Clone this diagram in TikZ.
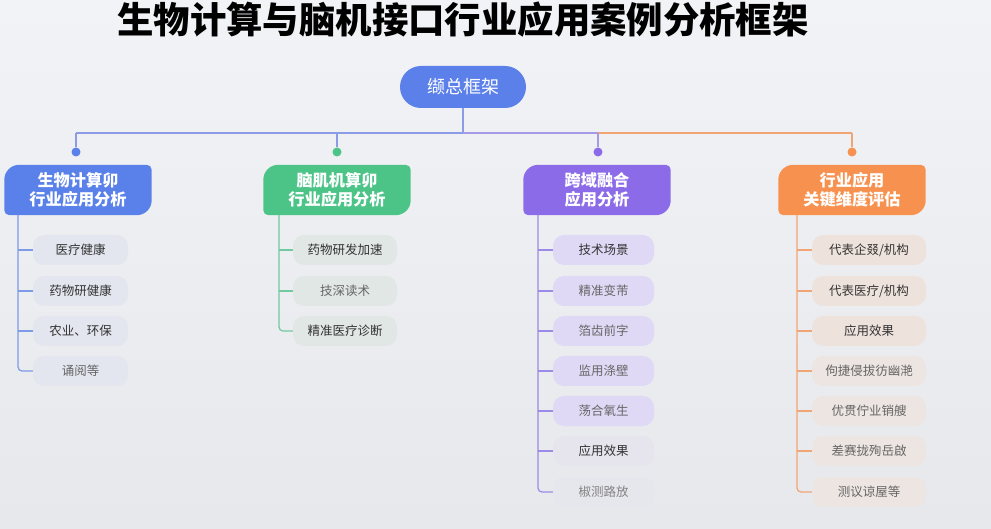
\documentclass[tikz,border=0pt]{standalone}
\usepackage{fontspec}
\setmainfont{Noto Sans CJK SC}
\usetikzlibrary{calc,backgrounds}
\definecolor{bgtop}{HTML}{F2F3F6}
\definecolor{bgbot}{HTML}{E6E8EC}
\definecolor{rootblue}{HTML}{5B80EA}
\definecolor{cA}{HTML}{5A80EA}
\definecolor{cB}{HTML}{4CC488}
\definecolor{cC}{HTML}{8C6BE8}
\definecolor{cD}{HTML}{F7914F}
\definecolor{fA}{HTML}{E3E6EE}
\definecolor{fB}{HTML}{E1E7E5}
\definecolor{fC}{HTML}{E0D9F5}
\definecolor{fCl}{HTML}{E6E5EE}
\definecolor{fD}{HTML}{EEE3DC}
\definecolor{fDl}{HTML}{ECE5E1}
\definecolor{lA}{HTML}{7E9BE8}
\definecolor{lB}{HTML}{72C9A0}
\definecolor{lC}{HTML}{9C8AE6}
\definecolor{lD}{HTML}{F2A574}
\definecolor{busA}{HTML}{8A9CE6}
\definecolor{busB}{HTML}{A69AE6}
\definecolor{txt}{HTML}{333333}
\definecolor{txtl}{HTML}{666666}
\newcommand\catfill[2]{%
  \fill[#2] ($(#1.north west)+(0,-15)$) arc[start angle=180,end angle=90,radius=15pt]
   -- ($(#1.north east)+(-5,0)$) arc[start angle=90,end angle=0,radius=5pt]
   -- ($(#1.south east)+(0,15)$) arc[start angle=0,end angle=-90,radius=15pt]
   -- ($(#1.south west)+(5,0)$) arc[start angle=270,end angle=180,radius=5pt] -- cycle;}
\begin{document}
\begin{tikzpicture}[x=1pt,y=1pt,
  catbox/.style={text=white,font=\bfseries\fontsize{16.2}{18.5}\selectfont,align=center,
    minimum width=147pt,minimum height=50pt,inner sep=0pt},
  leaf/.style={rounded corners=11pt,minimum height=30pt,inner sep=0pt,
    font=\fontsize{12.5}{14}\selectfont,text=txt},
  dotn/.style={circle,minimum size=9pt,inner sep=0pt},
  ln/.style={line width=1.2pt}]
\begin{scope}[on background layer]
\shade[top color=bgtop,bottom color=bgbot] (0,0) rectangle (991,528);
\end{scope}
\useasboundingbox (0,0) rectangle (991,528);
% title
\node[font=\bfseries\fontsize{36.4}{40}\selectfont,text=black] (title) at (463,508) {生物计算与脑机接口行业应用案例分析框架};
% root
\node[fill=rootblue,rounded corners=21pt,minimum width=126pt,minimum height=42pt,
  text=white,font=\fontsize{18}{20}\selectfont] (root) at (463,441) {缬总框架};
\coordinate (bus) at (463,395);
% dots
\node[dotn,fill=cA] (d1) at (76,376) {};
\node[dotn,fill=cB] (d2) at (337,376) {};
\node[dotn,fill=cC] (d3) at (598,376) {};
\node[dotn,fill=cD] (d4) at (852,376) {};
\draw[ln,busA] (root.south) -- (bus);
\draw[ln,busA] (d1.center |- bus) -- (bus);
\draw[ln,busB] (bus) -- (d3.center |- bus);
\draw[ln,lD] (d3.center |- bus) -- (d4.center |- bus);
\draw[ln,busA] (d1.center |- bus) -- (d1.north);
\draw[ln,busA] (d2.center |- bus) -- (d2.north);
\draw[ln,busB] (d3.center |- bus) -- (d3.north);
\draw[ln,lD] (d4.center |- bus) -- (d4.north);
% categories
\node[catbox] (c1) at (78,338) {生物计算卯\\行业应用分析};
\node[catbox] (c2) at (337,338) {脑肌机算卯\\行业应用分析};
\node[catbox] (c3) at (597,338) {跨域融合\\应用分析};
\node[catbox] (c4) at (852,338) {行业应用\\关键维度评估};
\begin{scope}[on background layer]
\catfill{c1}{cA}
\catfill{c2}{cB}
\catfill{c3}{cC}
\catfill{c4}{cD}
\end{scope}
\coordinate (v1) at (18,0 |- c1.south);
\coordinate (v2) at (279,0 |- c2.south);
\coordinate (v3) at (538,0 |- c3.south);
\coordinate (v4) at (797,0 |- c4.south);
% column 1
\node[leaf,fill=fA,minimum width=95pt] (a1) at (80.5,278) {医疗健康};
\node[leaf,fill=fA,minimum width=95pt] (a2) at (80.5,237) {药物研健康};
\node[leaf,fill=fA,minimum width=95pt] (a3) at (80.5,197) {农业、环保};
\node[leaf,fill=fA,minimum width=95pt,text=txtl] (a4) at (80.5,157) {诵阅等};
\draw[ln,lA,rounded corners=4pt] (v1) |- (a4.west);
\foreach \n in {a1,a2,a3} \draw[ln,lA] (v1 |- \n.west) -- (\n.west);
% column 2
\node[leaf,fill=fB,minimum width=104pt] (b1) at (345,278) {药物研发加速};
\node[leaf,fill=fB,minimum width=104pt,text=txtl] (b2) at (345,237) {技深读术};
\node[leaf,fill=fB,minimum width=104pt] (b3) at (345,197) {精准医疗诊断};
\draw[ln,lB,rounded corners=4pt] (v2) |- (b3.west);
\foreach \n in {b1,b2} \draw[ln,lB] (v2 |- \n.west) -- (\n.west);
% column 3
\node[leaf,fill=fC,minimum width=101pt] (e1) at (603.5,278) {技术场景};
\node[leaf,fill=fC,minimum width=101pt,text=txtl] (e2) at (603.5,237) {精准变芾};
\node[leaf,fill=fC,minimum width=101pt,text=txtl] (e3) at (603.5,197) {箔齿前字};
\node[leaf,fill=fC,minimum width=101pt,text=txtl] (e4) at (603.5,157) {监用涤壁};
\node[leaf,fill=fC,minimum width=101pt,text=txtl] (e5) at (603.5,117) {荡合氧生};
\node[leaf,fill=fCl,minimum width=101pt] (e6) at (603.5,77) {应用效果};
\node[leaf,fill=fCl!60!bgbot,minimum width=101pt,text=txtl!80!white] (e7) at (603.5,36) {椒测路放};
\draw[ln,lC,rounded corners=4pt] (v3) |- (e7.west);
\foreach \n in {e1,e2,e3,e4,e5,e6} \draw[ln,lC] (v3 |- \n.west) -- (\n.west);
% column 4
\node[leaf,fill=fD,minimum width=114pt] (g1) at (869,278) {代表企叕/机构};
\node[leaf,fill=fD,minimum width=114pt] (g2) at (869,237) {代表医疗/机构};
\node[leaf,fill=fD,minimum width=114pt] (g3) at (869,197) {应用效果};
\node[leaf,fill=fDl,minimum width=114pt,text=txtl] (g4) at (869,157) {佝捷侵拔彷幽滟};
\node[leaf,fill=fDl,minimum width=114pt,text=txtl] (g5) at (869,117) {优贯佇业销艘};
\node[leaf,fill=fDl,minimum width=114pt,text=txtl] (g6) at (869,77) {差赛拢殉岳啟};
\node[leaf,fill=fDl,minimum width=114pt,text=txtl] (g7) at (869,36) {测议谅屋等};
\draw[ln,lD,rounded corners=4pt] (v4) |- (g7.west);
\foreach \n in {g1,g2,g3,g4,g5,g6} \draw[ln,lD] (v4 |- \n.west) -- (\n.west);
\end{tikzpicture}
\end{document}
